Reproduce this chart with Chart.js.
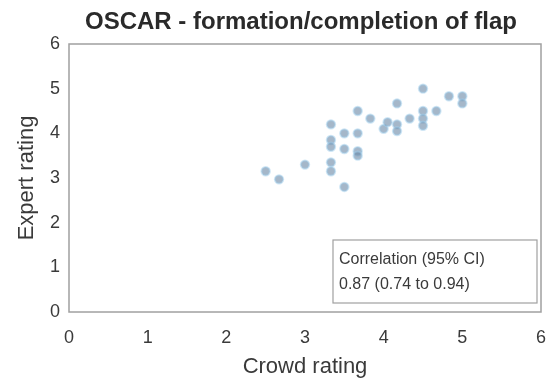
<!DOCTYPE html>
<html>
<head>
<meta charset="utf-8">
<script src="https://cdn.jsdelivr.net/npm/chart.js@4"></script>
<style>
html,body{margin:0;padding:0;background:#fff;}
#wrap{width:550px;height:380px;}
</style>
</head>
<body>
<div id="wrap"><canvas id="c" width="550" height="380"></canvas></div>
<script>
const chartTitle = "OSCAR - formation/completion of flap";
const xAxisTitle = "Crowd rating";
const yAxisTitle = "Expert rating";
const boxLines = ["Correlation (95% CI)", "0.87 (0.74 to 0.94)"];
const xTicks = [0, 1, 2, 3, 4, 5, 6];
const yTicks = [0, 1, 2, 3, 4, 5, 6];
const crowdRating = [2.5, 2.67, 3.0, 3.33, 3.33, 3.33, 3.33, 3.33, 3.5, 3.5, 3.5, 3.67, 3.67, 3.67, 3.67, 3.83, 4.0, 4.05, 4.17, 4.17, 4.17, 4.33, 4.5, 4.5, 4.5, 4.5, 4.67, 4.83, 5.0, 5.0];
const expertRating = [3.15, 2.97, 3.3, 4.2, 3.85, 3.7, 3.35, 3.15, 4.0, 3.65, 2.8, 4.0, 3.6, 3.5, 4.5, 4.33, 4.1, 4.25, 4.67, 4.2, 4.05, 4.33, 5.0, 4.5, 4.33, 4.17, 4.5, 4.83, 4.83, 4.67];

const points = crowdRating.map((x, i) => ({x: x, y: expertRating[i]}));
const textColor = '#3a3a3a';
const fontFam = '"Liberation Sans", Arial, Helvetica, sans-serif';

const framePlugin = {
  id: 'frame',
  afterDraw(chart) {
    const ctx = chart.ctx, a = chart.chartArea;
    ctx.save();
    ctx.strokeStyle = '#a0a0a0';
    ctx.lineWidth = 1.5;
    ctx.strokeRect(a.left, a.top, a.right - a.left, a.bottom - a.top);
    // title
    ctx.fillStyle = '#2a2a2a';
    ctx.font = 'bold 24px ' + fontFam;
    ctx.textAlign = 'center';
    ctx.textBaseline = 'middle';
    ctx.fillText(chartTitle, (a.left + a.right) / 2 - 4, 22);
    // correlation box
    const bx = a.right - 208, by = a.bottom - 72, bw = 204, bh = 63;
    ctx.fillStyle = '#fff';
    ctx.fillRect(bx, by, bw, bh);
    ctx.strokeStyle = '#a0a0a0';
    ctx.lineWidth = 1.2;
    ctx.strokeRect(bx, by, bw, bh);
    ctx.fillStyle = textColor;
    ctx.font = '16px ' + fontFam;
    ctx.textAlign = 'left';
    ctx.fillText(boxLines[0], bx + 6, by + 20);
    ctx.fillText(boxLines[1], bx + 6, by + 45);
    ctx.restore();
  }
};

new Chart(document.getElementById('c'), {
  type: 'scatter',
  data: {
    datasets: [{
      data: points,
      backgroundColor: 'rgba(105,135,165,0.6)',
      borderColor: 'rgba(160,205,235,0.5)',
      borderWidth: 2,
      pointRadius: 4.2,
      pointStyle: 'circle'
    }]
  },
  options: {
    responsive: false,
    animation: false,
    layout: {padding: {top: 44, right: 9, left: 0, bottom: 0}},
    plugins: {legend: {display: false}, tooltip: {enabled: false}, title: {display: false}},
    scales: {
      x: {
        type: 'linear', min: 0, max: 6,
        afterBuildTicks: s => { s.ticks = xTicks.map(v => ({value: v})); },
        afterFit: s => { s.height = 68; s.paddingLeft = 0; s.paddingRight = 0; },
        grid: {display: false, drawTicks: false},
        border: {display: false},
        ticks: {color: textColor, font: {size: 18, family: fontFam}, padding: 15},
        title: {display: true, text: xAxisTitle, color: textColor, font: {size: 22, family: fontFam}, padding: {top: 0, bottom: 0}}
      },
      y: {
        type: 'linear', min: 0, max: 6,
        afterBuildTicks: s => { s.ticks = yTicks.map(v => ({value: v})); },
        afterFit: s => { s.width = 69; s.paddingTop = 0; s.paddingBottom = 0; },
        grid: {display: false, drawTicks: false},
        border: {display: false},
        ticks: {color: textColor, font: {size: 18, family: fontFam}, padding: 9},
        title: {display: true, text: yAxisTitle, color: textColor, font: {size: 22, family: fontFam}, padding: {top: 14, bottom: 0}}
      }
    }
  },
  plugins: [framePlugin]
});
</script>
</body>
</html>
